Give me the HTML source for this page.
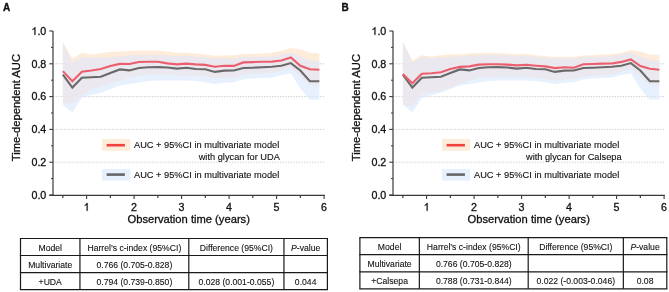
<!DOCTYPE html>
<html><head><meta charset="utf-8"><style>
html,body{margin:0;padding:0;background:#fff;}
svg{display:block;font-family:'Liberation Sans',sans-serif;will-change:transform;}
.t1{stroke:#111;stroke-width:0.3px;}
.t2{stroke:#111;stroke-width:0.12px;}
.t3{stroke:#111;stroke-width:0.1px;}
</style></head><body>
<svg width="669" height="292" viewBox="0 0 669 292" style="font-family:'Liberation Sans',sans-serif">
<rect width="669" height="292" fill="#fff"/>
<line x1="53.5" y1="162.20" x2="325" y2="162.20" stroke="#d2d2d2" stroke-width="1" stroke-dasharray="1.4 1.27" stroke-dashoffset="0.5"/>
<line x1="53.5" y1="129.40" x2="325" y2="129.40" stroke="#d2d2d2" stroke-width="1" stroke-dasharray="1.4 1.27" stroke-dashoffset="0.5"/>
<line x1="53.5" y1="96.60" x2="325" y2="96.60" stroke="#d2d2d2" stroke-width="1" stroke-dasharray="1.4 1.27" stroke-dashoffset="0.5"/>
<line x1="53.5" y1="63.80" x2="325" y2="63.80" stroke="#d2d2d2" stroke-width="1" stroke-dasharray="1.4 1.27" stroke-dashoffset="0.5"/>
<polygon points="62.85,42.00 72.35,58.80 81.85,52.80 91.35,54.60 100.85,53.10 110.35,52.00 119.85,51.60 129.35,51.00 138.85,50.40 148.35,50.40 157.85,50.40 167.35,51.40 176.85,53.10 186.35,52.80 195.85,53.40 205.35,54.60 214.85,55.80 224.35,55.50 233.85,55.20 243.35,54.00 252.85,54.00 262.35,53.40 271.85,52.80 281.35,51.00 290.85,48.00 300.35,49.20 309.85,52.80 319.35,53.40 319.35,85.30 309.85,85.10 300.35,75.70 290.85,67.90 281.35,70.80 271.85,72.60 262.35,73.20 252.85,73.80 243.35,74.40 233.85,77.40 224.35,77.40 214.85,77.90 205.35,76.20 195.85,75.40 186.35,75.20 176.85,75.20 167.35,74.70 157.85,74.40 148.35,74.40 138.85,75.60 129.35,77.40 119.85,80.40 110.35,83.40 100.85,86.40 91.35,88.90 81.85,95.40 72.35,103.90 62.85,102.40" fill="rgb(253.3,223.3,193.3)" fill-opacity="0.6"/>
<clipPath id="oc0"><polygon points="62.85,42.00 72.35,58.80 81.85,52.80 91.35,54.60 100.85,53.10 110.35,52.00 119.85,51.60 129.35,51.00 138.85,50.40 148.35,50.40 157.85,50.40 167.35,51.40 176.85,53.10 186.35,52.80 195.85,53.40 205.35,54.60 214.85,55.80 224.35,55.50 233.85,55.20 243.35,54.00 252.85,54.00 262.35,53.40 271.85,52.80 281.35,51.00 290.85,48.00 300.35,49.20 309.85,52.80 319.35,53.40 319.35,85.30 309.85,85.10 300.35,75.70 290.85,67.90 281.35,70.80 271.85,72.60 262.35,73.20 252.85,73.80 243.35,74.40 233.85,77.40 224.35,77.40 214.85,77.90 205.35,76.20 195.85,75.40 186.35,75.20 176.85,75.20 167.35,74.70 157.85,74.40 148.35,74.40 138.85,75.60 129.35,77.40 119.85,80.40 110.35,83.40 100.85,86.40 91.35,88.90 81.85,95.40 72.35,103.90 62.85,102.40"/></clipPath>
<polygon points="62.85,42.80 72.35,62.90 81.85,57.00 91.35,58.20 100.85,57.60 110.35,57.00 119.85,56.40 129.35,55.80 138.85,55.20 148.35,55.20 157.85,55.20 167.35,55.50 176.85,56.40 186.35,55.80 195.85,57.00 205.35,57.60 214.85,58.80 224.35,58.50 233.85,58.80 243.35,57.00 252.85,57.00 262.35,56.70 271.85,56.40 281.35,54.60 290.85,52.20 300.35,56.40 309.85,60.50 319.35,61.10 319.35,99.40 309.85,99.80 300.35,88.40 290.85,73.20 281.35,74.90 271.85,77.40 262.35,78.00 252.85,78.60 243.35,79.20 233.85,82.20 224.35,82.80 214.85,84.00 205.35,82.20 195.85,81.00 186.35,80.40 176.85,80.40 167.35,80.40 157.85,80.40 148.35,81.00 138.85,82.60 129.35,83.90 119.85,85.40 110.35,89.00 100.85,92.80 91.35,95.00 81.85,97.70 72.35,112.40 62.85,104.80" fill="rgb(215.0,230.0,251.7)" fill-opacity="0.6"/>
<polygon points="62.85,42.80 72.35,62.90 81.85,57.00 91.35,58.20 100.85,57.60 110.35,57.00 119.85,56.40 129.35,55.80 138.85,55.20 148.35,55.20 157.85,55.20 167.35,55.50 176.85,56.40 186.35,55.80 195.85,57.00 205.35,57.60 214.85,58.80 224.35,58.50 233.85,58.80 243.35,57.00 252.85,57.00 262.35,56.70 271.85,56.40 281.35,54.60 290.85,52.20 300.35,56.40 309.85,60.50 319.35,61.10 319.35,99.40 309.85,99.80 300.35,88.40 290.85,73.20 281.35,74.90 271.85,77.40 262.35,78.00 252.85,78.60 243.35,79.20 233.85,82.20 224.35,82.80 214.85,84.00 205.35,82.20 195.85,81.00 186.35,80.40 176.85,80.40 167.35,80.40 157.85,80.40 148.35,81.00 138.85,82.60 129.35,83.90 119.85,85.40 110.35,89.00 100.85,92.80 91.35,95.00 81.85,97.70 72.35,112.40 62.85,104.80" fill="rgb(239.4,233.6,239.8)" fill-opacity="0.5" clip-path="url(#oc0)"/>
<polyline points="62.85,74.70 72.35,87.60 81.85,77.70 91.35,77.30 100.85,76.80 110.35,73.00 119.85,69.40 129.35,70.40 138.85,68.00 148.35,67.20 157.85,67.10 167.35,67.50 176.85,68.60 186.35,67.70 195.85,69.00 205.35,69.30 214.85,71.90 224.35,70.60 233.85,70.50 243.35,68.00 252.85,67.70 262.35,67.30 271.85,66.80 281.35,65.80 290.85,63.10 300.35,70.50 309.85,81.30 319.35,81.30" fill="none" stroke="#696969" stroke-width="2.1" stroke-linejoin="miter"/>
<polyline points="62.85,71.10 72.35,81.30 81.85,71.70 91.35,70.50 100.85,69.00 110.35,66.00 119.85,63.90 129.35,64.00 138.85,62.00 148.35,61.70 157.85,61.70 167.35,63.40 176.85,64.40 186.35,63.60 195.85,64.40 205.35,64.90 214.85,66.70 224.35,65.80 233.85,65.90 243.35,62.40 252.85,62.10 262.35,61.80 271.85,61.60 281.35,60.50 290.85,57.50 300.35,65.80 309.85,69.30 319.35,69.80" fill="none" stroke="#eb5e6d" stroke-width="2.1" stroke-linejoin="miter"/>
<line x1="53" y1="31" x2="53" y2="195.5" stroke="#3a3a3a" stroke-width="1.2"/>
<line x1="49.3" y1="195.3" x2="324.8" y2="195.3" stroke="#3a3a3a" stroke-width="1.2"/>
<line x1="49.3" y1="195.00" x2="53" y2="195.00" stroke="#3a3a3a" stroke-width="1.1"/>
<text class="t1" x="46.3" y="198.80" text-anchor="end" font-size="10.7" fill="#111">0.0</text>
<line x1="51" y1="178.60" x2="53" y2="178.60" stroke="#3a3a3a" stroke-width="1"/>
<line x1="49.3" y1="162.20" x2="53" y2="162.20" stroke="#3a3a3a" stroke-width="1.1"/>
<text class="t1" x="46.3" y="166.00" text-anchor="end" font-size="10.7" fill="#111">0.2</text>
<line x1="51" y1="145.80" x2="53" y2="145.80" stroke="#3a3a3a" stroke-width="1"/>
<line x1="49.3" y1="129.40" x2="53" y2="129.40" stroke="#3a3a3a" stroke-width="1.1"/>
<text class="t1" x="46.3" y="133.20" text-anchor="end" font-size="10.7" fill="#111">0.4</text>
<line x1="51" y1="113.00" x2="53" y2="113.00" stroke="#3a3a3a" stroke-width="1"/>
<line x1="49.3" y1="96.60" x2="53" y2="96.60" stroke="#3a3a3a" stroke-width="1.1"/>
<text class="t1" x="46.3" y="100.40" text-anchor="end" font-size="10.7" fill="#111">0.6</text>
<line x1="51" y1="80.20" x2="53" y2="80.20" stroke="#3a3a3a" stroke-width="1"/>
<line x1="49.3" y1="63.80" x2="53" y2="63.80" stroke="#3a3a3a" stroke-width="1.1"/>
<text class="t1" x="46.3" y="67.60" text-anchor="end" font-size="10.7" fill="#111">0.8</text>
<line x1="51" y1="47.40" x2="53" y2="47.40" stroke="#3a3a3a" stroke-width="1"/>
<line x1="49.3" y1="31.00" x2="53" y2="31.00" stroke="#3a3a3a" stroke-width="1.1"/>
<text class="t1" x="46.3" y="34.80" text-anchor="end" font-size="10.7" fill="#111">.0</text>
<path class="t1" d="M763 0L583 0L583 1147Q518 1085 418 1025Q320 966 223 930L223 1104Q363 1170 468 1266Q574 1362 618 1466L763 1466Z" transform="translate(31.43,34.80) scale(0.005225,-0.005225)" fill="#111" vector-effect="non-scaling-stroke"/>
<line x1="86.60" y1="195.3" x2="86.60" y2="199" stroke="#3a3a3a" stroke-width="1.1"/>
<path class="t1" d="M763 0L583 0L583 1147Q518 1085 418 1025Q320 966 223 930L223 1104Q363 1170 468 1266Q574 1362 618 1466L763 1466Z" transform="translate(83.62,210.70) scale(0.005225,-0.005225)" fill="#111" vector-effect="non-scaling-stroke"/>
<line x1="134.10" y1="195.3" x2="134.10" y2="199" stroke="#3a3a3a" stroke-width="1.1"/>
<text class="t1" x="134.10" y="210.7" text-anchor="middle" font-size="10.7" fill="#111">2</text>
<line x1="181.60" y1="195.3" x2="181.60" y2="199" stroke="#3a3a3a" stroke-width="1.1"/>
<text class="t1" x="181.60" y="210.7" text-anchor="middle" font-size="10.7" fill="#111">3</text>
<line x1="229.10" y1="195.3" x2="229.10" y2="199" stroke="#3a3a3a" stroke-width="1.1"/>
<text class="t1" x="229.10" y="210.7" text-anchor="middle" font-size="10.7" fill="#111">4</text>
<line x1="276.60" y1="195.3" x2="276.60" y2="199" stroke="#3a3a3a" stroke-width="1.1"/>
<text class="t1" x="276.60" y="210.7" text-anchor="middle" font-size="10.7" fill="#111">5</text>
<line x1="324.10" y1="195.3" x2="324.10" y2="199" stroke="#3a3a3a" stroke-width="1.1"/>
<text class="t1" x="324.10" y="210.7" text-anchor="middle" font-size="10.7" fill="#111">6</text>
<line x1="62.85" y1="195.3" x2="62.85" y2="198" stroke="#3a3a3a" stroke-width="1.2"/>
<line x1="110.35" y1="195.3" x2="110.35" y2="198" stroke="#3a3a3a" stroke-width="1.2"/>
<line x1="157.85" y1="195.3" x2="157.85" y2="198" stroke="#3a3a3a" stroke-width="1.2"/>
<line x1="205.35" y1="195.3" x2="205.35" y2="198" stroke="#3a3a3a" stroke-width="1.2"/>
<line x1="252.85" y1="195.3" x2="252.85" y2="198" stroke="#3a3a3a" stroke-width="1.2"/>
<line x1="300.35" y1="195.3" x2="300.35" y2="198" stroke="#3a3a3a" stroke-width="1.2"/>
<text x="188.7" y="223.0" text-anchor="middle" font-size="11.2" class="t1" fill="#111">Observation time (years)</text>
<text transform="translate(20.4,107.6) rotate(-90)" text-anchor="middle" font-size="11.2" class="t1" fill="#111">Time-dependent AUC</text>
<text x="3" y="10.5" font-size="10" font-weight="bold" fill="#111" stroke="#111" stroke-width="0.35">A</text>
<rect x="102" y="139" width="28.3" height="11.8" fill="rgb(254.0,236.0,218.0)"/>
<line x1="106.6" y1="145.2" x2="124.9" y2="145.2" stroke="#f0433f" stroke-width="2.6"/>
<rect x="102" y="169" width="28.3" height="11.6" fill="rgb(231,240,253)"/>
<line x1="106.6" y1="174.6" x2="124.9" y2="174.6" stroke="#666666" stroke-width="2.6"/>
<text x="134" y="147.9" font-size="9.25" class="t2" fill="#111">AUC + 95%CI in multivariate model</text>
<text x="279.9" y="159.8" text-anchor="end" font-size="9.25" class="t2" fill="#111">with glycan for UDA</text>
<text x="134" y="177.9" font-size="9.25" class="t2" fill="#111">AUC + 95%CI in multivariate model</text>
<line x1="393.5" y1="162.20" x2="665" y2="162.20" stroke="#d2d2d2" stroke-width="1" stroke-dasharray="1.4 1.27" stroke-dashoffset="0.5"/>
<line x1="393.5" y1="129.40" x2="665" y2="129.40" stroke="#d2d2d2" stroke-width="1" stroke-dasharray="1.4 1.27" stroke-dashoffset="0.5"/>
<line x1="393.5" y1="96.60" x2="665" y2="96.60" stroke="#d2d2d2" stroke-width="1" stroke-dasharray="1.4 1.27" stroke-dashoffset="0.5"/>
<line x1="393.5" y1="63.80" x2="665" y2="63.80" stroke="#d2d2d2" stroke-width="1" stroke-dasharray="1.4 1.27" stroke-dashoffset="0.5"/>
<polygon points="402.85,41.40 412.35,60.50 421.85,55.20 431.35,56.40 440.85,55.20 450.35,54.60 459.85,54.30 469.35,53.60 478.85,53.10 488.35,53.10 497.85,53.10 507.35,53.40 516.85,54.30 526.35,54.00 535.85,55.20 545.35,56.00 554.85,57.00 564.35,56.80 573.85,56.70 583.35,55.50 592.85,55.20 602.35,54.60 611.85,54.20 621.35,52.80 630.85,50.00 640.35,51.60 649.85,54.60 659.35,54.80 659.35,85.30 649.85,85.00 640.35,76.40 630.85,68.40 621.35,71.80 611.85,74.40 602.35,75.00 592.85,75.60 583.35,76.20 573.85,79.20 564.35,79.20 554.85,80.40 545.35,78.60 535.85,77.40 526.35,76.50 516.85,76.50 507.35,76.50 497.85,76.60 488.35,76.80 478.85,77.40 469.35,80.40 459.85,83.40 450.35,87.40 440.85,91.00 431.35,92.00 421.85,94.00 412.35,105.90 402.85,104.90" fill="rgb(253.3,223.3,193.3)" fill-opacity="0.6"/>
<clipPath id="oc340"><polygon points="402.85,41.40 412.35,60.50 421.85,55.20 431.35,56.40 440.85,55.20 450.35,54.60 459.85,54.30 469.35,53.60 478.85,53.10 488.35,53.10 497.85,53.10 507.35,53.40 516.85,54.30 526.35,54.00 535.85,55.20 545.35,56.00 554.85,57.00 564.35,56.80 573.85,56.70 583.35,55.50 592.85,55.20 602.35,54.60 611.85,54.20 621.35,52.80 630.85,50.00 640.35,51.60 649.85,54.60 659.35,54.80 659.35,85.30 649.85,85.00 640.35,76.40 630.85,68.40 621.35,71.80 611.85,74.40 602.35,75.00 592.85,75.60 583.35,76.20 573.85,79.20 564.35,79.20 554.85,80.40 545.35,78.60 535.85,77.40 526.35,76.50 516.85,76.50 507.35,76.50 497.85,76.60 488.35,76.80 478.85,77.40 469.35,80.40 459.85,83.40 450.35,87.40 440.85,91.00 431.35,92.00 421.85,94.00 412.35,105.90 402.85,104.90"/></clipPath>
<polygon points="402.85,42.80 412.35,62.90 421.85,57.00 431.35,58.20 440.85,57.60 450.35,57.00 459.85,56.40 469.35,55.80 478.85,55.20 488.35,55.20 497.85,55.20 507.35,55.50 516.85,56.40 526.35,55.80 535.85,57.00 545.35,57.60 554.85,58.80 564.35,58.50 573.85,58.80 583.35,57.00 592.85,57.00 602.35,56.70 611.85,56.40 621.35,54.60 630.85,52.20 640.35,56.40 649.85,60.50 659.35,61.10 659.35,99.40 649.85,99.80 640.35,88.40 630.85,73.20 621.35,74.90 611.85,77.40 602.35,78.00 592.85,78.60 583.35,79.20 573.85,82.20 564.35,82.80 554.85,84.00 545.35,82.20 535.85,81.00 526.35,80.40 516.85,80.40 507.35,80.40 497.85,80.40 488.35,81.00 478.85,82.60 469.35,83.90 459.85,85.40 450.35,89.00 440.85,92.80 431.35,95.00 421.85,97.70 412.35,112.40 402.85,104.80" fill="rgb(215.0,230.0,251.7)" fill-opacity="0.6"/>
<polygon points="402.85,42.80 412.35,62.90 421.85,57.00 431.35,58.20 440.85,57.60 450.35,57.00 459.85,56.40 469.35,55.80 478.85,55.20 488.35,55.20 497.85,55.20 507.35,55.50 516.85,56.40 526.35,55.80 535.85,57.00 545.35,57.60 554.85,58.80 564.35,58.50 573.85,58.80 583.35,57.00 592.85,57.00 602.35,56.70 611.85,56.40 621.35,54.60 630.85,52.20 640.35,56.40 649.85,60.50 659.35,61.10 659.35,99.40 649.85,99.80 640.35,88.40 630.85,73.20 621.35,74.90 611.85,77.40 602.35,78.00 592.85,78.60 583.35,79.20 573.85,82.20 564.35,82.80 554.85,84.00 545.35,82.20 535.85,81.00 526.35,80.40 516.85,80.40 507.35,80.40 497.85,80.40 488.35,81.00 478.85,82.60 469.35,83.90 459.85,85.40 450.35,89.00 440.85,92.80 431.35,95.00 421.85,97.70 412.35,112.40 402.85,104.80" fill="rgb(239.4,233.6,239.8)" fill-opacity="0.5" clip-path="url(#oc340)"/>
<polyline points="402.85,74.70 412.35,87.60 421.85,77.70 431.35,77.30 440.85,76.80 450.35,73.00 459.85,69.40 469.35,70.40 478.85,68.00 488.35,67.20 497.85,67.10 507.35,67.50 516.85,68.60 526.35,67.70 535.85,69.00 545.35,69.30 554.85,71.90 564.35,70.60 573.85,70.50 583.35,68.00 592.85,67.70 602.35,67.30 611.85,66.80 621.35,65.80 630.85,63.10 640.35,70.50 649.85,81.30 659.35,81.30" fill="none" stroke="#696969" stroke-width="2.1" stroke-linejoin="miter"/>
<polyline points="402.85,74.10 412.35,83.30 421.85,73.70 431.35,73.20 440.85,72.30 450.35,69.00 459.85,66.90 469.35,66.40 478.85,64.60 488.35,64.20 497.85,64.20 507.35,64.60 516.85,65.40 526.35,64.80 535.85,65.70 545.35,66.40 554.85,68.10 564.35,67.30 573.85,67.80 583.35,64.20 592.85,64.00 602.35,63.60 611.85,63.50 621.35,61.90 630.85,59.50 640.35,66.10 649.85,68.80 659.35,69.70" fill="none" stroke="#eb5e6d" stroke-width="2.1" stroke-linejoin="miter"/>
<line x1="393" y1="31" x2="393" y2="195.5" stroke="#3a3a3a" stroke-width="1.2"/>
<line x1="389.3" y1="195.3" x2="664.8" y2="195.3" stroke="#3a3a3a" stroke-width="1.2"/>
<line x1="389.3" y1="195.00" x2="393" y2="195.00" stroke="#3a3a3a" stroke-width="1.1"/>
<text class="t1" x="386.3" y="198.80" text-anchor="end" font-size="10.7" fill="#111">0.0</text>
<line x1="391" y1="178.60" x2="393" y2="178.60" stroke="#3a3a3a" stroke-width="1"/>
<line x1="389.3" y1="162.20" x2="393" y2="162.20" stroke="#3a3a3a" stroke-width="1.1"/>
<text class="t1" x="386.3" y="166.00" text-anchor="end" font-size="10.7" fill="#111">0.2</text>
<line x1="391" y1="145.80" x2="393" y2="145.80" stroke="#3a3a3a" stroke-width="1"/>
<line x1="389.3" y1="129.40" x2="393" y2="129.40" stroke="#3a3a3a" stroke-width="1.1"/>
<text class="t1" x="386.3" y="133.20" text-anchor="end" font-size="10.7" fill="#111">0.4</text>
<line x1="391" y1="113.00" x2="393" y2="113.00" stroke="#3a3a3a" stroke-width="1"/>
<line x1="389.3" y1="96.60" x2="393" y2="96.60" stroke="#3a3a3a" stroke-width="1.1"/>
<text class="t1" x="386.3" y="100.40" text-anchor="end" font-size="10.7" fill="#111">0.6</text>
<line x1="391" y1="80.20" x2="393" y2="80.20" stroke="#3a3a3a" stroke-width="1"/>
<line x1="389.3" y1="63.80" x2="393" y2="63.80" stroke="#3a3a3a" stroke-width="1.1"/>
<text class="t1" x="386.3" y="67.60" text-anchor="end" font-size="10.7" fill="#111">0.8</text>
<line x1="391" y1="47.40" x2="393" y2="47.40" stroke="#3a3a3a" stroke-width="1"/>
<line x1="389.3" y1="31.00" x2="393" y2="31.00" stroke="#3a3a3a" stroke-width="1.1"/>
<text class="t1" x="386.3" y="34.80" text-anchor="end" font-size="10.7" fill="#111">.0</text>
<path class="t1" d="M763 0L583 0L583 1147Q518 1085 418 1025Q320 966 223 930L223 1104Q363 1170 468 1266Q574 1362 618 1466L763 1466Z" transform="translate(371.43,34.80) scale(0.005225,-0.005225)" fill="#111" vector-effect="non-scaling-stroke"/>
<line x1="426.60" y1="195.3" x2="426.60" y2="199" stroke="#3a3a3a" stroke-width="1.1"/>
<path class="t1" d="M763 0L583 0L583 1147Q518 1085 418 1025Q320 966 223 930L223 1104Q363 1170 468 1266Q574 1362 618 1466L763 1466Z" transform="translate(423.62,210.70) scale(0.005225,-0.005225)" fill="#111" vector-effect="non-scaling-stroke"/>
<line x1="474.10" y1="195.3" x2="474.10" y2="199" stroke="#3a3a3a" stroke-width="1.1"/>
<text class="t1" x="474.10" y="210.7" text-anchor="middle" font-size="10.7" fill="#111">2</text>
<line x1="521.60" y1="195.3" x2="521.60" y2="199" stroke="#3a3a3a" stroke-width="1.1"/>
<text class="t1" x="521.60" y="210.7" text-anchor="middle" font-size="10.7" fill="#111">3</text>
<line x1="569.10" y1="195.3" x2="569.10" y2="199" stroke="#3a3a3a" stroke-width="1.1"/>
<text class="t1" x="569.10" y="210.7" text-anchor="middle" font-size="10.7" fill="#111">4</text>
<line x1="616.60" y1="195.3" x2="616.60" y2="199" stroke="#3a3a3a" stroke-width="1.1"/>
<text class="t1" x="616.60" y="210.7" text-anchor="middle" font-size="10.7" fill="#111">5</text>
<line x1="664.10" y1="195.3" x2="664.10" y2="199" stroke="#3a3a3a" stroke-width="1.1"/>
<text class="t1" x="664.10" y="210.7" text-anchor="middle" font-size="10.7" fill="#111">6</text>
<line x1="402.85" y1="195.3" x2="402.85" y2="198" stroke="#3a3a3a" stroke-width="1.2"/>
<line x1="450.35" y1="195.3" x2="450.35" y2="198" stroke="#3a3a3a" stroke-width="1.2"/>
<line x1="497.85" y1="195.3" x2="497.85" y2="198" stroke="#3a3a3a" stroke-width="1.2"/>
<line x1="545.35" y1="195.3" x2="545.35" y2="198" stroke="#3a3a3a" stroke-width="1.2"/>
<line x1="592.85" y1="195.3" x2="592.85" y2="198" stroke="#3a3a3a" stroke-width="1.2"/>
<line x1="640.35" y1="195.3" x2="640.35" y2="198" stroke="#3a3a3a" stroke-width="1.2"/>
<text x="528.7" y="223.0" text-anchor="middle" font-size="11.2" class="t1" fill="#111">Observation time (years)</text>
<text transform="translate(360.4,107.6) rotate(-90)" text-anchor="middle" font-size="11.2" class="t1" fill="#111">Time-dependent AUC</text>
<text x="341.6" y="10.5" font-size="10" font-weight="bold" fill="#111" stroke="#111" stroke-width="0.35">B</text>
<rect x="442" y="139" width="28.3" height="11.8" fill="rgb(254.0,236.0,218.0)"/>
<line x1="446.6" y1="145.2" x2="464.9" y2="145.2" stroke="#f0433f" stroke-width="2.6"/>
<rect x="442" y="169" width="28.3" height="11.6" fill="rgb(231,240,253)"/>
<line x1="446.6" y1="174.6" x2="464.9" y2="174.6" stroke="#666666" stroke-width="2.6"/>
<text x="474" y="147.9" font-size="9.25" class="t2" fill="#111">AUC + 95%CI in multivariate model</text>
<text x="621.6" y="159.8" text-anchor="end" font-size="9.25" class="t2" fill="#111">with glycan for Calsepa</text>
<text x="474" y="177.9" font-size="9.25" class="t2" fill="#111">AUC + 95%CI in multivariate model</text>
<line x1="19.9" y1="238.5" x2="328.0" y2="238.5" stroke="#1a1a1a" stroke-width="1.2"/>
<line x1="19.9" y1="255.5" x2="328.0" y2="255.5" stroke="#1a1a1a" stroke-width="1.2"/>
<line x1="19.9" y1="272.7" x2="328.0" y2="272.7" stroke="#1a1a1a" stroke-width="1.2"/>
<line x1="19.9" y1="289.7" x2="328.0" y2="289.7" stroke="#1a1a1a" stroke-width="1.2"/>
<line x1="20.5" y1="238.5" x2="20.5" y2="289.7" stroke="#1a1a1a" stroke-width="1.2"/>
<line x1="79.95" y1="238.5" x2="79.95" y2="289.7" stroke="#1a1a1a" stroke-width="1.2"/>
<line x1="188.8" y1="238.5" x2="188.8" y2="289.7" stroke="#1a1a1a" stroke-width="1.2"/>
<line x1="283.95" y1="238.5" x2="283.95" y2="289.7" stroke="#1a1a1a" stroke-width="1.2"/>
<line x1="327.4" y1="238.5" x2="327.4" y2="289.7" stroke="#1a1a1a" stroke-width="1.2"/>
<text x="50.23" y="251.10" text-anchor="middle" font-size="8.65" class="t3" fill="#111">Model</text>
<text x="134.38" y="251.10" text-anchor="middle" font-size="8.65" class="t3" fill="#111">Harrel’s c-index (95%CI)</text>
<text x="236.38" y="251.10" text-anchor="middle" font-size="8.65" class="t3" fill="#111">Difference (95%CI)</text>
<text x="305.67" y="251.10" text-anchor="middle" font-size="8.65" class="t3" fill="#111"><tspan font-style="italic">P</tspan>-value</text>
<text x="50.23" y="268.10" text-anchor="middle" font-size="8.65" class="t3" fill="#111">Multivariate</text>
<text x="134.38" y="268.10" text-anchor="middle" font-size="8.65" class="t3" fill="#111">0.766 (0.705-0.828)</text>
<text x="50.23" y="285.30" text-anchor="middle" font-size="8.65" class="t3" fill="#111">+UDA</text>
<text x="134.38" y="285.30" text-anchor="middle" font-size="8.65" class="t3" fill="#111">0.794 (0.739-0.850)</text>
<text x="236.38" y="285.30" text-anchor="middle" font-size="8.65" class="t3" fill="#111">0.028 (0.001-0.055)</text>
<text x="305.67" y="285.30" text-anchor="middle" font-size="8.65" class="t3" fill="#111">0.044</text>
<line x1="359.29999999999995" y1="237.65" x2="667.4" y2="237.65" stroke="#1a1a1a" stroke-width="1.2"/>
<line x1="359.29999999999995" y1="254.65" x2="667.4" y2="254.65" stroke="#1a1a1a" stroke-width="1.2"/>
<line x1="359.29999999999995" y1="271.84999999999997" x2="667.4" y2="271.84999999999997" stroke="#1a1a1a" stroke-width="1.2"/>
<line x1="359.29999999999995" y1="288.84999999999997" x2="667.4" y2="288.84999999999997" stroke="#1a1a1a" stroke-width="1.2"/>
<line x1="359.9" y1="237.65" x2="359.9" y2="288.84999999999997" stroke="#1a1a1a" stroke-width="1.2"/>
<line x1="419.34999999999997" y1="237.65" x2="419.34999999999997" y2="288.84999999999997" stroke="#1a1a1a" stroke-width="1.2"/>
<line x1="528.2" y1="237.65" x2="528.2" y2="288.84999999999997" stroke="#1a1a1a" stroke-width="1.2"/>
<line x1="623.3499999999999" y1="237.65" x2="623.3499999999999" y2="288.84999999999997" stroke="#1a1a1a" stroke-width="1.2"/>
<line x1="666.8" y1="237.65" x2="666.8" y2="288.84999999999997" stroke="#1a1a1a" stroke-width="1.2"/>
<text x="389.62" y="250.25" text-anchor="middle" font-size="8.65" class="t3" fill="#111">Model</text>
<text x="473.77" y="250.25" text-anchor="middle" font-size="8.65" class="t3" fill="#111">Harrel’s c-index (95%CI)</text>
<text x="575.77" y="250.25" text-anchor="middle" font-size="8.65" class="t3" fill="#111">Difference (95%CI)</text>
<text x="645.07" y="250.25" text-anchor="middle" font-size="8.65" class="t3" fill="#111"><tspan font-style="italic">P</tspan>-value</text>
<text x="389.62" y="267.25" text-anchor="middle" font-size="8.65" class="t3" fill="#111">Multivariate</text>
<text x="473.77" y="267.25" text-anchor="middle" font-size="8.65" class="t3" fill="#111">0.766 (0.705-0.828)</text>
<text x="389.62" y="284.45" text-anchor="middle" font-size="8.65" class="t3" fill="#111">+Calsepa</text>
<text x="473.77" y="284.45" text-anchor="middle" font-size="8.65" class="t3" fill="#111">0.788 (0.731-0.844)</text>
<text x="575.77" y="284.45" text-anchor="middle" font-size="8.65" class="t3" fill="#111">0.022 (-0.003-0.046)</text>
<text x="645.07" y="284.45" text-anchor="middle" font-size="8.65" class="t3" fill="#111">0.08</text>
</svg>
</body></html>
